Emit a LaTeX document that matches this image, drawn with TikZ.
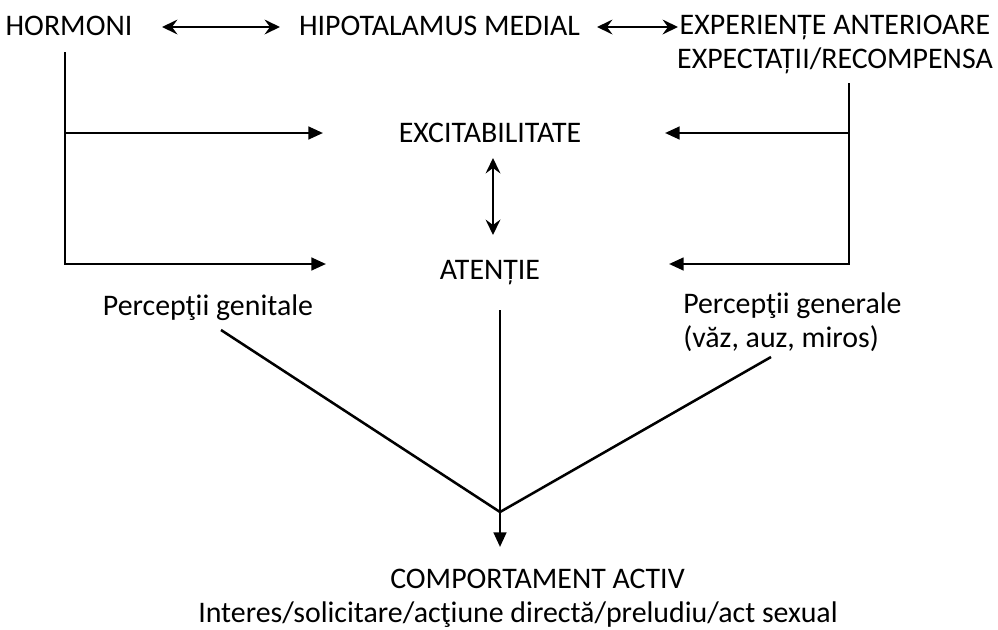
\documentclass[tikz,border=0pt]{standalone}
\usepackage{fontspec}
\setmainfont{Carlito}
\usetikzlibrary{arrows.meta}
\begin{document}
\begin{tikzpicture}[x=0.75pt,y=-0.75pt,
  lbl/.style={inner sep=0pt,anchor=base,font=\fontsize{22.4}{25}\selectfont},
  ln/.style={line width=1.9pt},
  tri/.style={ln,-{Triangle[length=11pt,width=9.5pt]}},
  dbl/.style={ln,{Stealth[length=11.5pt,width=11pt,inset=4pt]}-{Stealth[length=11.5pt,width=11pt,inset=4pt]}}]
\useasboundingbox (0,0) rectangle (998,629);
\node[lbl] (horm) at (69,35.7) {HORMONI};
\node[lbl] (hipo) at (439.5,35.7) {HIPOTALAMUS MEDIAL};
\node[lbl,align=center] (exp) at (835,68) {EXPERIENȚE ANTERIOARE\\EXPECTAȚII/RECOMPENSA};
\node[lbl] (exc) at (490,142) {EXCITABILITATE};
\node[lbl] (aten) at (490,279) {ATENȚIE};
\node[lbl] (pgen) at (208,315) {Percepţii genitale};
\node[lbl,align=left,anchor=base west] (pgenr) at (683,347) {Percepţii generale\\(văz, auz, miros)};
\node[lbl] (comp) at (537.5,588) {COMPORTAMENT ACTIV};
\node[lbl] (compsub) at (518,622) {Interes/solicitare/acţiune directă/preludiu/act sexual};
\coordinate (hl) at (65,52);
\coordinate (hr) at (849,83);
\coordinate (j) at (500,512);
% top double arrows
\draw[dbl] (162,27) -- (280,27);
\draw[dbl] (597,27) -- (678,27);
% left branch
\draw[tri] (hl) -- (65,264) -- (326,264);
\draw[tri] (65,133) -- (323,133);
% right branch
\draw[tri] (hr) -- (849,264) -- (669,264);
\draw[tri] (849,133) -- (665,133);
% excitabilitate <-> atentie
\draw[dbl] (493,158) -- (493,235);
% convergence
\draw[ln] (221,330) -- (j);
\draw[ln] (771,357) -- (j);
\draw[ln] (500,310) -- (j);
\draw[tri] (j) -- (500,547);
\end{tikzpicture}
\end{document}
